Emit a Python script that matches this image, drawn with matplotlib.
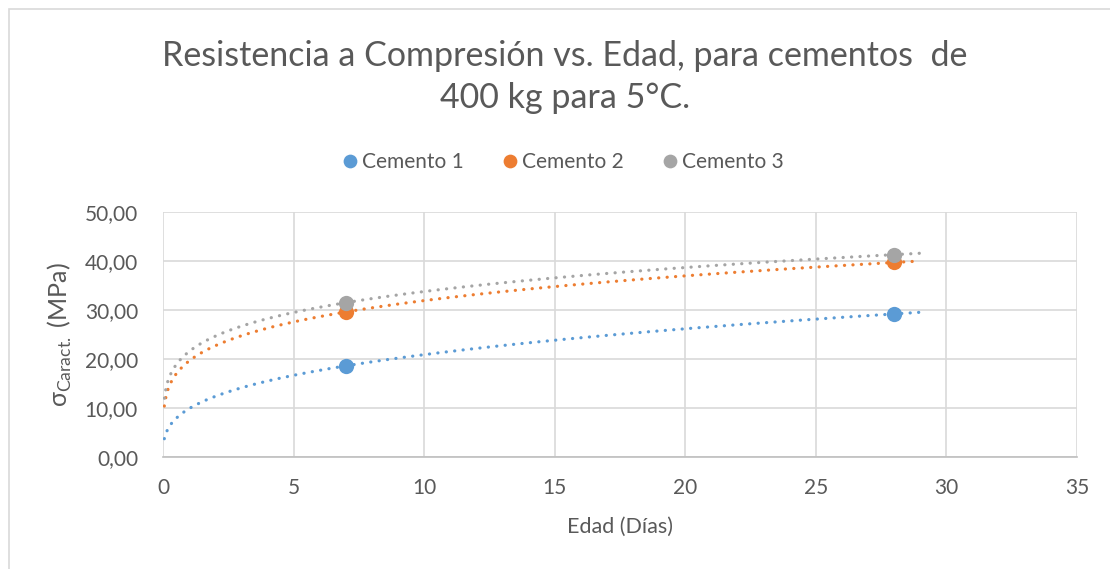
import numpy as np
import matplotlib
matplotlib.use("Agg")
import matplotlib.pyplot as plt
from matplotlib.patches import Rectangle

plt.rcParams['font.family'] = ['Lato', 'DejaVu Sans']

edad = [7, 28]
series_names = ["Cemento 1", "Cemento 2", "Cemento 3"]
cemento1 = [18.6, 29.2]
cemento2 = [29.6, 39.7]
cemento3 = [31.5, 41.3]
colors = ["#5B9BD5", "#ED7D31", "#A5A5A5"]
xticks = [0, 5, 10, 15, 20, 25, 30, 35]
yticks = [0, 10, 20, 30, 40, 50]
ytick_labels = ["0,00", "10,00", "20,00", "30,00", "40,00", "50,00"]

W, H = 1110, 569
fig = plt.figure(figsize=(W / 100, H / 100), dpi=100)
fig.patch.set_facecolor("white")
fig.patches.append(Rectangle((9 / W, -0.1), 1.2, 1 - 9 / H + 0.1, transform=fig.transFigure,
                             fill=False, edgecolor="#D9D9D9", linewidth=1.2))

ax = fig.add_axes([163 / W, 1 - 457 / H, (1077 - 163) / W, (457 - 212) / H])
txt = "#595959"

xt = np.linspace(0.05, 29, 400)
for name, vals, c in zip(series_names, [cemento1, cemento2, cemento3], colors):
    # power trendline fitted to the data (as in the spreadsheet chart)
    b, lna = np.polyfit(np.log(edad), np.log(vals), 1)
    yt = np.exp(lna) * xt ** b
    ax.plot(xt, yt, color=c, linewidth=2.3, linestyle=(0, (0.05, 2.6)),
            dash_capstyle="round", solid_capstyle="round", zorder=2)
for name, vals, c in zip(series_names, [cemento1, cemento2, cemento3], colors):
    ax.plot(edad, vals, "o", color=c, markersize=11, label=name, zorder=3,
            markeredgewidth=0)

ax.set_xlim(0, 35)
ax.set_ylim(0, 50)
ax.set_xticks(xticks)
ax.set_yticks(yticks)
ax.set_yticklabels(ytick_labels)
ax.grid(True, color="#D9D9D9", linewidth=1.2)
ax.set_axisbelow(True)
for s in ["top", "right", "left"]:
    ax.spines[s].set_visible(False)
ax.spines["bottom"].set_color("#BFBFBF")
ax.spines["bottom"].set_linewidth(1.2)
ax.tick_params(axis="both", length=0, labelsize=15, colors=txt)
ax.tick_params(axis="y", pad=18)
ax.tick_params(axis="x", pad=15)

ax.set_xlabel("Edad (Días)", fontsize=15.5, color=txt, labelpad=14)
ax.set_ylabel(r"σ$_{\mathregular{Caract.}}$ (MPa)", fontsize=18, color=txt, labelpad=8)

fig.text(0.509, 1 - 77 / H, "Resistencia a Compresión vs. Edad, para cementos  de\n400 kg para 5°C.",
         ha="center", va="center", fontsize=24.5, color=txt, linespacing=1.38)

leg = fig.legend(loc="center", bbox_to_anchor=(0.505, 1 - 162 / H), ncol=3, frameon=False,
                 fontsize=15, handletextpad=0.0, columnspacing=1.6, handlelength=1.2,
                 markerscale=0.9)
for t in leg.get_texts():
    t.set_color(txt)

fig.savefig("out.png", dpi=100, facecolor="white")
